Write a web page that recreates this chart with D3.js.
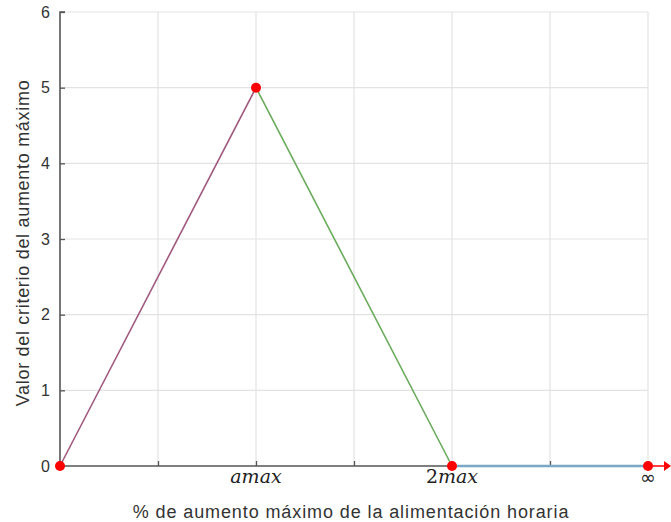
<!DOCTYPE html>
<html><head><meta charset="utf-8">
<script src="https://cdn.jsdelivr.net/npm/d3@7"></script>
<style>body{margin:0;background:#fff;} svg{display:block;}</style>
</head><body>
<svg id="c" width="671" height="522"></svg>
<script>
const xValues = [0, 2, 4, 6];
const yValues = [0, 5, 0, 0];
const segmentColors = ["#a05a80", "#6aab5c", "#7aa7c4"];
const yTicks = [0, 1, 2, 3, 4, 5, 6];
const xTicks = [0, 1, 2, 3, 4, 5, 6];
const xTickLabels = {2: "amax", 4: "2max", 6: "∞"};
const xTitle = "% de aumento máximo de la alimentación horaria";
const yTitle = "Valor del criterio del aumento máximo";

const svg = d3.select("#c");
const x = d3.scaleLinear().domain([0, 6]).range([60, 648]);
const y = d3.scaleLinear().domain([0, 6]).range([466, 12]);
const sans = "Liberation Sans, Arial, sans-serif";

// grid
svg.append("g").selectAll("line").data(xTicks.slice(1)).join("line")
  .attr("x1", d => x(d)).attr("x2", d => x(d)).attr("y1", y(6)).attr("y2", y(0))
  .attr("stroke", "#e3e3e3").attr("stroke-width", 1.2);
svg.append("g").selectAll("line").data(yTicks.slice(1)).join("line")
  .attr("x1", x(0)).attr("x2", x(6)).attr("y1", d => y(d)).attr("y2", d => y(d))
  .attr("stroke", "#e3e3e3").attr("stroke-width", 1.2);

// axes
const yAxis = svg.append("g").attr("transform", `translate(${x(0)},0)`)
  .call(d3.axisRight(y).tickValues(yTicks).tickSize(5).tickFormat(""));
yAxis.select(".domain").attr("stroke", "#555").attr("stroke-width", 1.6).attr("d", `M0,${y(0)}V${y(6)}h5`);
yAxis.selectAll(".tick line").attr("stroke", "#555").attr("stroke-width", 1.3);
svg.append("g").selectAll("text").data(yTicks).join("text")
  .attr("x", 50).attr("y", d => y(d)).attr("dy", "0.36em").attr("text-anchor", "end")
  .attr("font-family", sans).attr("font-size", 16).attr("fill", "#333")
  .text(d => d);

const xAxis = svg.append("g").attr("transform", `translate(0,${y(0)})`)
  .call(d3.axisTop(x).tickValues(xTicks).tickSize(5).tickFormat(""));
xAxis.select(".domain").attr("stroke", "#555").attr("stroke-width", 1.6).attr("d", `M${x(0)},0H${x(6)}`);
xAxis.selectAll(".tick line").attr("stroke", "#555").attr("stroke-width", 1.3);
svg.append("g").selectAll("text").data(Object.keys(xTickLabels).map(Number)).join("text")
  .attr("x", d => x(d)).attr("y", 483).attr("text-anchor", "middle")
  .attr("font-family", "DejaVu Serif, Liberation Serif, serif").attr("font-size", 19).attr("fill", "#222")
  .each(function(d){
    const t = d3.select(this); const s = xTickLabels[d];
    if (s.startsWith("2")) { t.append("tspan").text("2"); t.append("tspan").attr("font-style","italic").text(s.slice(1)); }
    else if (s === "∞") { t.text(s).attr("font-family", "DejaVu Sans, sans-serif").attr("font-size", 19).attr("y", 484); }
    else t.attr("font-style","italic").text(s);
  });

// red arrow to infinity
svg.append("line").attr("x1", x(6)).attr("x2", 666).attr("y1", y(0)).attr("y2", y(0))
  .attr("stroke", "#ff0000").attr("stroke-width", 1.5);
svg.append("path").attr("d", `M664,${y(0)-5}L664,${y(0)+5}L671,${y(0)}Z`).attr("fill", "#ff0000");

// segments
const pts = xValues.map((v, i) => [v, yValues[i]]);
svg.append("g").selectAll("line").data(segmentColors).join("line")
  .attr("x1", (c, i) => x(pts[i][0])).attr("y1", (c, i) => y(pts[i][1]))
  .attr("x2", (c, i) => x(pts[i+1][0])).attr("y2", (c, i) => y(pts[i+1][1]))
  .attr("stroke", c => c).attr("stroke-width", (c, i) => i === 2 ? 2.4 : 1.6);

svg.append("g").selectAll("circle").data(pts).join("circle")
  .attr("cx", d => x(d[0])).attr("cy", d => y(d[1])).attr("r", 5).attr("fill", "#ff0000");

// titles
svg.append("text").attr("x", 351).attr("y", 518).attr("text-anchor", "middle")
  .attr("font-family", sans).attr("font-size", 18).attr("letter-spacing", 0.9).attr("fill", "#333").text(xTitle);
svg.append("text").attr("transform", `translate(29,243) rotate(-90)`).attr("text-anchor", "middle")
  .attr("font-family", sans).attr("font-size", 18).attr("letter-spacing", 0.7).attr("fill", "#333").text(yTitle);
</script>
</body></html>
